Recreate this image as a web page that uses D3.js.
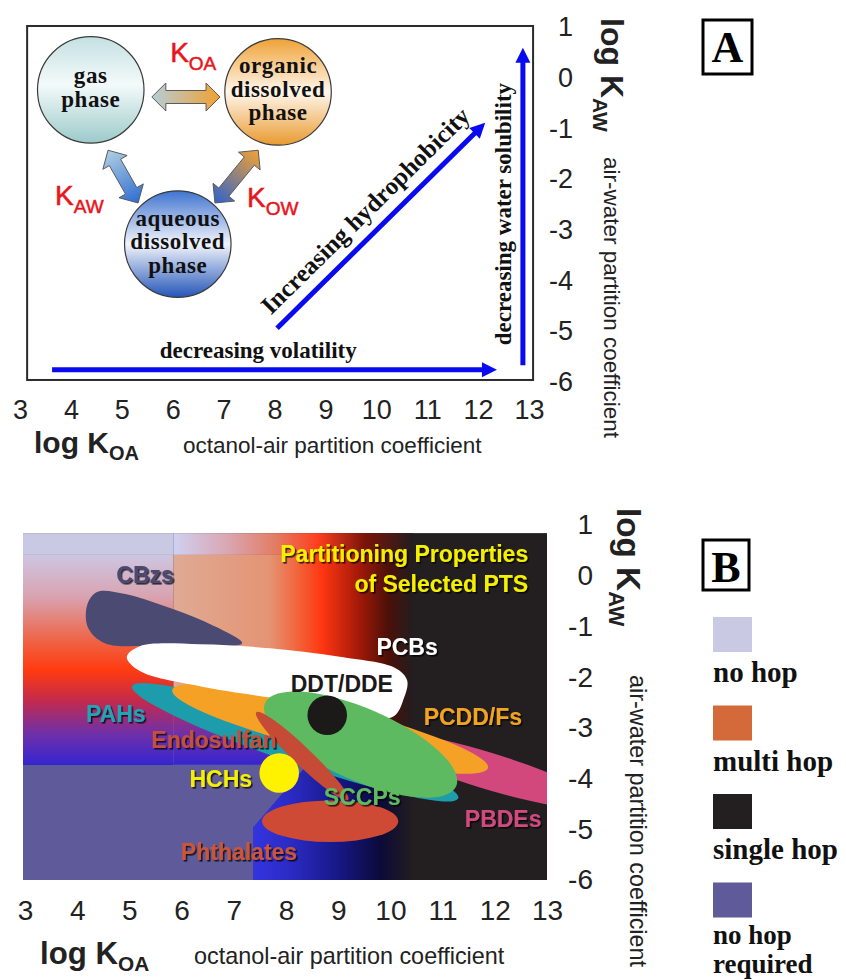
<!DOCTYPE html>
<html>
<head>
<meta charset="utf-8">
<script src="https://cdn.jsdelivr.net/npm/d3@7"></script>
<style>
  body { margin: 0; background: #fff; }
  svg { display: block; }
</style>
</head>
<body>
<svg id="chart" width="846" height="980"></svg>
<script>
// ---------- values (log KOA, log KAW) ----------
const koaTicks = [3, 4, 5, 6, 7, 8, 9, 10, 11, 12, 13];
const kawTicks = [1, 0, -1, -2, -3, -4, -5, -6];

// panel A: the three phases and the partition arrows between them
const phaseLines = [["gas", "phase"], ["organic", "dissolved", "phase"], ["aqueous", "dissolved", "phase"]];
const phaseKoa = [4.39, 8.07, 6.10];
const phaseKaw = [-0.24, -0.28, -3.28];
const phaseRadius = 1.05;
const linkFrom = [[5.59, -0.38], [4.73, -1.43], [7.68, -1.43]];
const linkTo = [[6.93, -0.38], [5.32, -2.47], [6.83, -2.47]];
const kSubs = ["OA", "AW", "OW"];
const kAt = [[5.95, 0.31], [3.69, -2.51], [7.46, -2.55]];

// panel A: trend arrows
const trendNames = ["decreasing volatility", "Increasing hydrophobicity", "decreasing water solubility"];
const trendFrom = [[3.63, -5.76], [8.05, -4.94], [12.88, -5.67]];
const trendTo = [[12.37, -5.76], [12.14, -0.89], [12.88, 0.59]];
const trendLabelAt = [[7.68, -5.53], [9.90, -2.74], [12.65, -2.69]];

// panel B: hop classes behind the chemicals
const hopZones = [
  { id: "single", koa: [2.96, 13.0], kaw: [-6, 0.84] },
  { id: "nohopTop", koa: [2.96, 5.84], kaw: [0.41, 0.84] },
  { id: "topBand", koa: [5.84, 10.43], kaw: [0.41, 0.84] },
  { id: "multi", koa: [5.84, 10.43], kaw: [-3.73, 0.41] },
  { id: "left", koa: [2.96, 5.84], kaw: [-3.73, 0.41] },
  { id: "leftExt", koa: [5.84, 7.7], kaw: [-3.73, -2.3] },
  { id: "low", koa: [7.37, 10.43], kaw: [-6, -3.73] }
];
const noHopReqKoa = [2.96, 8.4, 7.37, 7.37, 2.96];
const noHopReqKaw = [-3.73, -3.73, -4.96, -6, -6];

// panel B: chemical groups
const cbzKoa = [4.38, 4.92, 5.68, 6.45, 7.16, 6.35, 5.39, 4.53, 4.21, 4.19];
const cbzKaw = [-0.32, -0.36, -0.60, -0.91, -1.33, -1.39, -1.39, -1.33, -1.03, -0.58];
const pcbKoa = [4.95, 5.20, 6.35, 7.69, 9.03, 10.09, 10.32, 10.26, 10.03, 8.27, 6.35, 5.20];
const pcbKaw = [-1.60, -1.39, -1.35, -1.43, -1.60, -1.82, -2.06, -2.41, -2.79, -2.49, -2.18, -1.88];

const bandNames = ["PBDEs", "PAHs", "PCDD/Fs", "PCBs", "SCCPs", "Endosulfan", "Phthalates"];
const bandFrom = [[9.61, -3.14], [5.05, -2.18], [5.82, -2.25], null, [7.60, -2.51], [7.43, -2.69], [7.54, -4.84]];
const bandTo = [[14.02, -4.52], [11.30, -4.39], [11.87, -3.79], null, [11.26, -4.15], [9.19, -4.42], [10.15, -4.84]];
const bandHalfWidth = [0.36, 0.40, 0.45, null, 0.71, 0.18, 0.41];

const dotNames = ["DDT/DDE", "HCHs"];
const dotAt = [[8.79, -2.75], [7.87, -3.89]];
const dotRadius = [0.39, 0.39];

const labelNames = ["CBzs", "PCBs", "DDT/DDE", "PAHs", "PCDD/Fs", "Endosulfan", "HCHs", "SCCPs", "PBDEs", "Phthalates"];
const labelAt = [[5.30, -0.14], [10.32, -1.56], [9.07, -2.29], [4.74, -2.89], [11.58, -2.94],
                 [6.62, -3.40], [6.75, -4.17], [9.46, -4.52], [12.16, -4.96], [7.10, -5.61]];
const titleLines = ["Partitioning Properties", "of Selected PTS"];
const titleAt = [[12.64, 0.27], [12.64, -0.32]];

const hopClasses = ["no hop", "multi hop", "single hop", "no hop|required"];

// ---------- styles ----------
const SANS = "'Liberation Sans', Arial, sans-serif";
const SERIF = "'Liberation Serif', 'Times New Roman', serif";
const groupColor = {
  CBzs: "#4b4a72", PBDEs: "#d2487c", PAHs: "#1d9cab", "PCDD/Fs": "#f5a126", PCBs: "#ffffff",
  SCCPs: "#5dba60", Endosulfan: "#c64b37", Phthalates: "#cf4a35", "DDT/DDE": "#1c1919", HCHs: "#fff200"
};
const labelColor = {
  CBzs: "#4b4a72", PCBs: "#ffffff", "DDT/DDE": "#1c1919", PAHs: "#22a4b4", "PCDD/Fs": "#f3a323",
  Endosulfan: "#c4503c", HCHs: "#f5f000", SCCPs: "#5fbb5f", PBDEs: "#d24a80", Phthalates: "#cc5538"
};
const hopColor = ["#c9c9e4", "#d46a3a", "#231f20", "#5f5b9b"];

const svg = d3.select("#chart");
const defs = svg.append("defs");

const xA = d3.scaleLinear().domain([3, 13]).range([20, 529]);
const yA = d3.scaleLinear().domain([1, -6]).range([27, 382]);
const xB = d3.scaleLinear().domain([3, 13]).range([25, 547]);
const yB = d3.scaleLinear().domain([1, -6]).range([525, 880]);

function linGrad(id, x1, y1, x2, y2, stops) {
  const g = defs.append("linearGradient").attr("id", id)
    .attr("gradientUnits", "userSpaceOnUse")
    .attr("x1", x1).attr("y1", y1).attr("x2", x2).attr("y2", y2);
  stops.forEach(s => g.append("stop").attr("offset", s[0]).attr("stop-color", s[1]));
}
function boxGrad(id, stops) {
  const g = defs.append("linearGradient").attr("id", id)
    .attr("x1", 0).attr("y1", 0).attr("x2", 0).attr("y2", 1);
  stops.forEach(s => g.append("stop").attr("offset", s[0]).attr("stop-color", s[1]));
}

const shadow = defs.append("filter").attr("id", "shadow")
  .attr("x", "-10%").attr("y", "-20%").attr("width", "130%").attr("height", "150%");
shadow.append("feDropShadow").attr("dx", 1.6).attr("dy", 1.6).attr("stdDeviation", 0.7)
  .attr("flood-color", "#000").attr("flood-opacity", 0.75);

// ---------- axes (labels only) ----------
function tickLabels(x, y, xTop, yRight, size) {
  const bx = svg.append("g").attr("transform", `translate(0,${xTop})`)
    .call(d3.axisBottom(x).tickValues(koaTicks).tickSize(0).tickPadding(0).tickFormat(d => String(d)));
  const ly = svg.append("g").attr("transform", `translate(${yRight},0)`)
    .call(d3.axisLeft(y).tickValues(kawTicks).tickSize(0).tickPadding(0).tickFormat(d => String(d)));
  [bx, ly].forEach(g => {
    g.select(".domain").remove();
    g.selectAll("text").attr("font-size", size).attr("font-family", SANS).attr("fill", "#222");
  });
}

function axisTitles(xStart, xBase, octStart, yBase, yStart, awBase, awStart, k) {
  const t = svg.append("text").attr("x", xStart).attr("y", xBase)
    .attr("font-family", SANS).attr("font-weight", "bold").attr("fill", "#222");
  t.append("tspan").attr("font-size", 30 * k).text("log K");
  t.append("tspan").attr("font-size", 20 * k).attr("dy", 7).text("OA");
  svg.append("text").attr("x", octStart).attr("y", xBase)
    .attr("font-family", SANS).attr("font-size", 22.5 * k).attr("fill", "#222")
    .text("octanol-air partition coefficient");

  const r = svg.append("text").attr("transform", `translate(${yBase},${yStart}) rotate(90)`)
    .attr("font-family", SANS).attr("font-weight", "bold").attr("fill", "#222");
  r.append("tspan").attr("font-size", 32 * k).text("log K");
  r.append("tspan").attr("font-size", 21 * k).attr("dy", 8).text("AW");
  svg.append("text").attr("transform", `translate(${awBase},${awStart}) rotate(90)`)
    .attr("font-family", SANS).attr("font-size", 22.5 * k).attr("fill", "#222")
    .text("air-water partition coefficient");
}

function panelTag(x, y, w, h, letter, base) {
  svg.append("rect").attr("x", x).attr("y", y).attr("width", w).attr("height", h)
    .attr("fill", "#fff").attr("stroke", "#000").attr("stroke-width", 3);
  svg.append("text").attr("x", x + w / 2).attr("y", base).attr("text-anchor", "middle")
    .attr("font-family", SERIF).attr("font-weight", "bold").attr("font-size", 44).text(letter);
}

// ================= PANEL A =================
const gA = svg.append("g");
gA.append("rect")
  .attr("x", xA(3.14)).attr("y", yA(1.02))
  .attr("width", xA(13.08) - xA(3.14)).attr("height", yA(-5.96) - yA(1.02))
  .attr("fill", "#fff").attr("stroke", "#2b2b2b").attr("stroke-width", 2);

// phase bubbles
boxGrad("ph0", [[0, "#c4e0e2"], [0.45, "#f4fafa"], [1, "#9ccaca"]]);
boxGrad("ph1", [[0, "#efa236"], [0.5, "#fff6ec"], [1, "#e99a30"]]);
boxGrad("ph2", [[0, "#3f74d0"], [0.5, "#f2f4fb"], [1, "#2456b8"]]);
const rPx = yA(0) - yA(phaseRadius);
phaseLines.forEach((lines, i) => {
  const cx = xA(phaseKoa[i]), cy = yA(phaseKaw[i]);
  gA.append("circle").attr("cx", cx).attr("cy", cy).attr("r", rPx)
    .attr("fill", `url(#ph${i})`).attr("stroke", "#3a3a3a").attr("stroke-width", 1.2);
  lines.forEach((s, j) => {
    gA.append("text").attr("x", cx).attr("y", cy + (j - (lines.length - 1) / 2) * 23.5 + 5)
      .attr("text-anchor", "middle").attr("font-family", SERIF).attr("font-weight", "bold")
      .attr("font-size", 23).attr("letter-spacing", 0.6).attr("fill", "#111").text(s);
  });
});

// double block arrows between phases
function dblArrow(p1, p2, shaftHalf, headHalf, headLen) {
  const dx = p2[0] - p1[0], dy = p2[1] - p1[1], L = Math.hypot(dx, dy);
  const u = [dx / L, dy / L], n = [-u[1], u[0]];
  const P = (p, a, b) => [p[0] + u[0] * a + n[0] * b, p[1] + u[1] * a + n[1] * b];
  return [p1, P(p1, headLen, headHalf), P(p1, headLen, shaftHalf), P(p2, -headLen, shaftHalf),
          P(p2, -headLen, headHalf), p2, P(p2, -headLen, -headHalf), P(p2, -headLen, -shaftHalf),
          P(p1, headLen, -shaftHalf), P(p1, headLen, -headHalf)];
}
const linkStops = [
  [[0, "#b4ced8"], [1, "#f2a030"]],
  [[0, "#b0d0e2"], [1, "#2e6cd2"]],
  [[0, "#f2a232"], [1, "#2f62cc"]]
];
linkFrom.forEach((f, i) => {
  const p1 = [xA(f[0]), yA(f[1])], p2 = [xA(linkTo[i][0]), yA(linkTo[i][1])];
  linGrad(`lk${i}`, p1[0], p1[1], p2[0], p2[1], linkStops[i]);
  gA.append("polygon").attr("points", dblArrow(p1, p2, 6.5, 14, 14).map(p => p.join(",")).join(" "))
    .attr("fill", `url(#lk${i})`).attr("stroke", "#5a5a5a").attr("stroke-width", 1);
});

// K labels
kSubs.forEach((s, i) => {
  const t = gA.append("text").attr("x", xA(kAt[i][0])).attr("y", yA(kAt[i][1]))
    .attr("font-family", SANS).attr("fill", "#e8141c").attr("stroke", "#e8141c").attr("stroke-width", 0.5);
  t.append("tspan").attr("font-size", 28).text("K");
  t.append("tspan").attr("font-size", 19).attr("dy", 8).text(s);
});

// blue trend arrows
trendFrom.forEach((f, i) => {
  const p1 = [xA(f[0]), yA(f[1])], p2 = [xA(trendTo[i][0]), yA(trendTo[i][1])];
  const dx = p2[0] - p1[0], dy = p2[1] - p1[1], L = Math.hypot(dx, dy);
  const u = [dx / L, dy / L], n = [-u[1], u[0]];
  const hl = 15, hh = 7.5;
  const b = [p2[0] - u[0] * hl, p2[1] - u[1] * hl];
  gA.append("line").attr("x1", p1[0]).attr("y1", p1[1]).attr("x2", b[0] + u[0]).attr("y2", b[1] + u[1])
    .attr("stroke", "#0a0af0").attr("stroke-width", 5);
  gA.append("polygon")
    .attr("points", [p2, [b[0] + n[0] * hh, b[1] + n[1] * hh], [b[0] - n[0] * hh, b[1] - n[1] * hh]]
      .map(p => p.join(",")).join(" "))
    .attr("fill", "#0a0af0");
  const ang = Math.atan2(dy, dx) * 180 / Math.PI;
  const lx = xA(trendLabelAt[i][0]), ly = yA(trendLabelAt[i][1]);
  gA.append("text").attr("transform", `translate(${lx},${ly}) rotate(${ang})`)
    .attr("text-anchor", "middle").attr("font-family", SERIF).attr("font-weight", "bold")
    .attr("font-size", i === 1 ? 25 : 23).attr("fill", "#111").text(trendNames[i]);
});

tickLabels(xA, yA, 400, 573, 27);
axisTitles(34, 453, 183, 601, 18, 604, 157, 1);
panelTag(703, 20, 49, 54, "A", 62);

// ================= PANEL B =================
defs.append("clipPath").attr("id", "clipB").append("rect")
  .attr("x", xB(2.96)).attr("y", yB(0.84))
  .attr("width", xB(13.0) - xB(2.96)).attr("height", yB(-6) - yB(0.84));
const gB = svg.append("g").attr("clip-path", "url(#clipB)");

linGrad("gTop", xB(5.84), 0, xB(10.43), 0,
  [[0, "#d0d0f2"], [0.22, "#d9a8b4"], [0.42, "#e27e66"], [0.6, "#ff4020"], [0.8, "#7a1408"], [1, "#221d1f"]]);
linGrad("gMulti", xB(5.84), 0, xB(10.43), 0,
  [[0, "#dfaa94"], [0.4, "#e49474"], [0.52, "#f2643a"], [0.62, "#ff3612"], [0.78, "#a01808"], [0.9, "#4a1008"], [1, "#221d1f"]]);
linGrad("gLeft", 0, yB(0.41), 0, yB(-3.73),
  [[0, "#cdc6e2"], [0.2, "#d9a3b0"], [0.42, "#f06040"], [0.55, "#ff3a10"], [0.7, "#c02a50"], [0.85, "#7030a8"], [1, "#3525d0"]]);
linGrad("gLow", xB(7.37), 0, xB(10.43), 0,
  [[0, "#3434e0"], [0.25, "#2a2ac2"], [0.55, "#161682"], [0.8, "#0c0a38"], [1, "#221d1f"]]);
const zoneFill = {
  single: hopColor[2], nohopTop: hopColor[0], topBand: "url(#gTop)", multi: "url(#gMulti)",
  left: "url(#gLeft)", leftExt: "url(#gLeft)", low: "url(#gLow)"
};
gB.selectAll("rect.zone").data(hopZones).enter().append("rect").attr("class", "zone")
  .attr("x", d => xB(d.koa[0])).attr("y", d => yB(d.kaw[1]))
  .attr("width", d => xB(d.koa[1]) - xB(d.koa[0])).attr("height", d => yB(d.kaw[0]) - yB(d.kaw[1]))
  .attr("fill", d => zoneFill[d.id]);
gB.append("polygon")
  .attr("points", noHopReqKoa.map((k, i) => [xB(k), yB(noHopReqKaw[i])].join(",")).join(" "))
  .attr("fill", hopColor[3]);

const blob = d3.line().x(d => xB(d[0])).y(d => yB(d[1])).curve(d3.curveCatmullRomClosed.alpha(0.5));
const kawPx = yB(0) - yB(1);

function band(i) {
  const p1 = [xB(bandFrom[i][0]), yB(bandFrom[i][1])], p2 = [xB(bandTo[i][0]), yB(bandTo[i][1])];
  const cx = (p1[0] + p2[0]) / 2, cy = (p1[1] + p2[1]) / 2;
  const ang = Math.atan2(p2[1] - p1[1], p2[0] - p1[0]) * 180 / Math.PI;
  gB.append("ellipse").attr("cx", cx).attr("cy", cy)
    .attr("rx", Math.hypot(p2[0] - p1[0], p2[1] - p1[1]) / 2)
    .attr("ry", bandHalfWidth[i] * kawPx)
    .attr("transform", `rotate(${ang},${cx},${cy})`)
    .attr("fill", groupColor[bandNames[i]]);
}

gB.append("path").attr("d", blob(cbzKoa.map((k, i) => [k, cbzKaw[i]]))).attr("fill", groupColor.CBzs);
bandNames.forEach((name, i) => {
  if (name === "PCBs") {
    gB.append("path").attr("d", blob(pcbKoa.map((k, j) => [k, pcbKaw[j]]))).attr("fill", groupColor.PCBs);
  } else if (name !== "Phthalates") {
    band(i);
  }
});
dotNames.forEach((name, i) => {
  gB.append("circle").attr("cx", xB(dotAt[i][0])).attr("cy", yB(dotAt[i][1]))
    .attr("r", dotRadius[i] * kawPx).attr("fill", groupColor[name]);
});
band(bandNames.indexOf("Phthalates"));

// labels
labelNames.forEach((name, i) => {
  gB.append("text").attr("x", xB(labelAt[i][0])).attr("y", yB(labelAt[i][1]))
    .attr("text-anchor", "middle").attr("font-family", SANS).attr("font-weight", "bold")
    .attr("font-size", 23).attr("fill", labelColor[name])
    .attr("filter", name === "DDT/DDE" ? null : "url(#shadow)")
    .text(name);
});
titleLines.forEach((s, i) => {
  gB.append("text").attr("x", xB(titleAt[i][0])).attr("y", yB(titleAt[i][1]))
    .attr("text-anchor", "end").attr("font-family", SANS).attr("font-weight", "bold")
    .attr("font-size", 23).attr("fill", "#f5f000").attr("filter", "url(#shadow)").text(s);
});

tickLabels(xB, yB, 900, 593, 28);
axisTitles(40, 964, 194, 617, 508, 630, 675, 1.04);
panelTag(703, 540, 46, 50, "B", 582);

// legend
const legTop = 617, legStep = 88.5;
hopClasses.forEach((c, i) => {
  const y0 = legTop + i * legStep;
  const lines = c.split("|");
  svg.append("rect").attr("x", 713).attr("y", y0).attr("width", 39).attr("height", 35).attr("fill", hopColor[i]);
  lines.forEach((s, j) => {
    svg.append("text").attr("x", 713).attr("y", y0 + (lines.length > 1 ? 61 : 65) + j * 29)
      .attr("font-family", SERIF).attr("font-weight", "bold").attr("font-size", lines.length > 1 ? 27 : 29)
      .attr("fill", "#111").text(s);
  });
});
</script>
</body>
</html>
